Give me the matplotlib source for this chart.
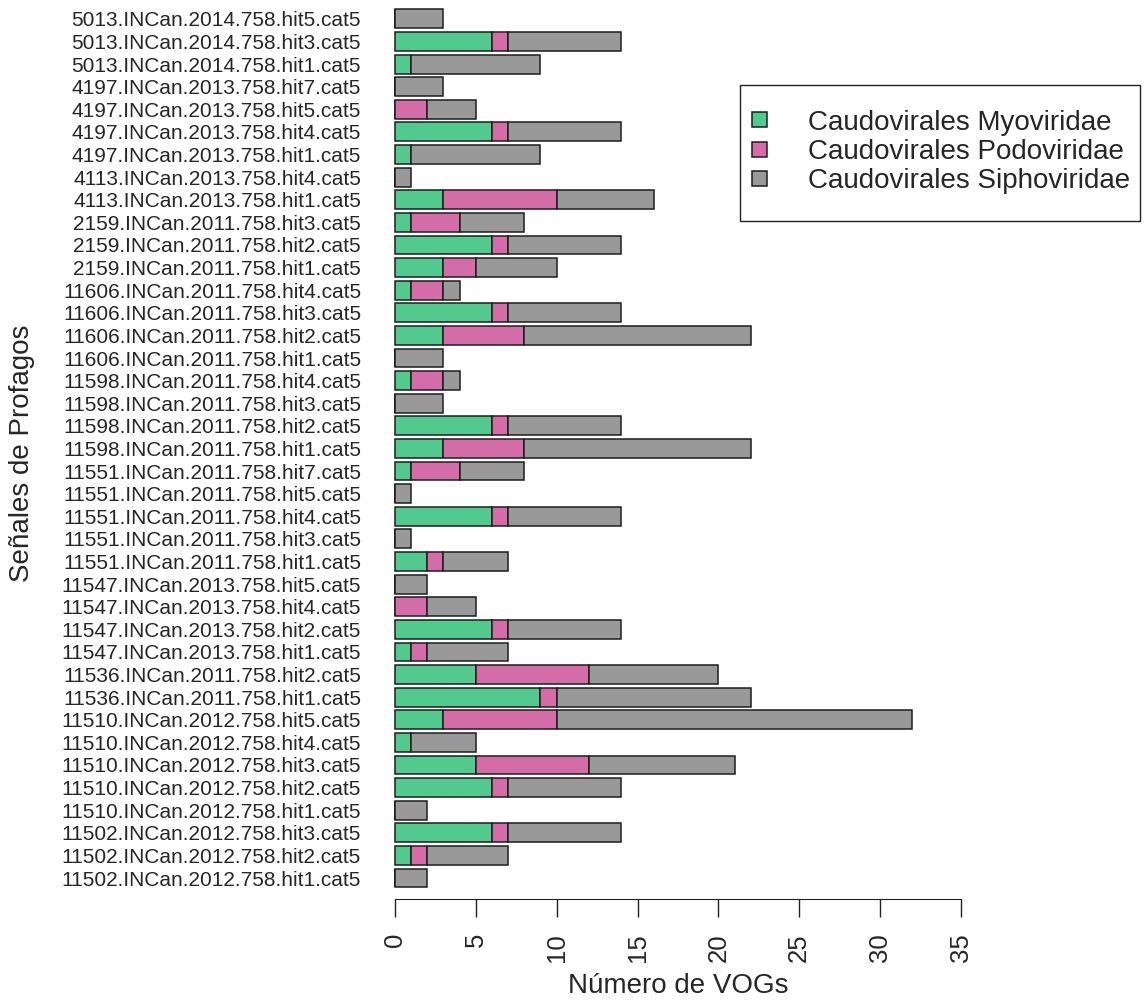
import matplotlib
matplotlib.use("Agg")
import matplotlib.pyplot as plt
from matplotlib.patches import Rectangle
import numpy as np

plt.rcParams['font.family'] = ['Liberation Sans', 'DejaVu Sans']

# categories listed top to bottom as in the chart
categories = [
    "5013.INCan.2014.758.hit5.cat5",
    "5013.INCan.2014.758.hit3.cat5",
    "5013.INCan.2014.758.hit1.cat5",
    "4197.INCan.2013.758.hit7.cat5",
    "4197.INCan.2013.758.hit5.cat5",
    "4197.INCan.2013.758.hit4.cat5",
    "4197.INCan.2013.758.hit1.cat5",
    "4113.INCan.2013.758.hit4.cat5",
    "4113.INCan.2013.758.hit1.cat5",
    "2159.INCan.2011.758.hit3.cat5",
    "2159.INCan.2011.758.hit2.cat5",
    "2159.INCan.2011.758.hit1.cat5",
    "11606.INCan.2011.758.hit4.cat5",
    "11606.INCan.2011.758.hit3.cat5",
    "11606.INCan.2011.758.hit2.cat5",
    "11606.INCan.2011.758.hit1.cat5",
    "11598.INCan.2011.758.hit4.cat5",
    "11598.INCan.2011.758.hit3.cat5",
    "11598.INCan.2011.758.hit2.cat5",
    "11598.INCan.2011.758.hit1.cat5",
    "11551.INCan.2011.758.hit7.cat5",
    "11551.INCan.2011.758.hit5.cat5",
    "11551.INCan.2011.758.hit4.cat5",
    "11551.INCan.2011.758.hit3.cat5",
    "11551.INCan.2011.758.hit1.cat5",
    "11547.INCan.2013.758.hit5.cat5",
    "11547.INCan.2013.758.hit4.cat5",
    "11547.INCan.2013.758.hit2.cat5",
    "11547.INCan.2013.758.hit1.cat5",
    "11536.INCan.2011.758.hit2.cat5",
    "11536.INCan.2011.758.hit1.cat5",
    "11510.INCan.2012.758.hit5.cat5",
    "11510.INCan.2012.758.hit4.cat5",
    "11510.INCan.2012.758.hit3.cat5",
    "11510.INCan.2012.758.hit2.cat5",
    "11510.INCan.2012.758.hit1.cat5",
    "11502.INCan.2012.758.hit3.cat5",
    "11502.INCan.2012.758.hit2.cat5",
    "11502.INCan.2012.758.hit1.cat5",
]

myoviridae = [0, 6, 1, 0, 0, 6, 1, 0, 3, 1, 6, 3, 1, 6, 3, 0, 1, 0, 6, 3,
              1, 0, 6, 0, 2, 0, 0, 6, 1, 5, 9, 3, 1, 5, 6, 0, 6, 1, 0]
podoviridae = [0, 1, 0, 0, 2, 1, 0, 0, 7, 3, 1, 2, 2, 1, 5, 0, 2, 0, 1, 5,
               3, 0, 1, 0, 1, 0, 2, 1, 1, 7, 1, 7, 0, 7, 1, 0, 1, 1, 0]
siphoviridae = [3, 7, 8, 3, 3, 7, 8, 1, 6, 4, 7, 5, 1, 7, 14, 3, 1, 3, 7, 14,
                4, 1, 7, 1, 4, 2, 3, 7, 5, 8, 12, 22, 4, 9, 7, 2, 7, 5, 2]

series_names = ["Caudovirales Myoviridae", "Caudovirales Podoviridae",
                "Caudovirales Siphoviridae"]
series_colors = ["#52C98D", "#D46CA7", "#999999"]
x_ticks = [0, 5, 10, 15, 20, 25, 30, 35]

fig = plt.figure(figsize=(11.44, 10), dpi=100)
ax = fig.add_axes([0.3311, 0.1084, 0.5230, 0.8863])

# spine placement first (it resets tick objects)
for s in ["top", "right", "left"]:
    ax.spines[s].set_visible(False)
ax.spines["bottom"].set_position(("outward", 5.3))
ax.spines["bottom"].set_color("#222222")

cats = categories[::-1]
series = [np.array(s[::-1], dtype=float) for s in (myoviridae, podoviridae, siphoviridae)]
ypos = np.arange(len(cats))
left = np.zeros(len(cats))
handles = []
for vals, name, col in zip(series, series_names, series_colors):
    h = ax.barh(ypos, vals, left=left, height=1 / 1.2, color=col,
                edgecolor="#1e1e1e", linewidth=1.1, label=name)
    handles.append(h)
    left = left + vals

ax.set_xlim(-1, 36)
ax.set_ylim(-0.6, len(cats) - 1 + 0.6)
ax.spines["bottom"].set_bounds(0, 35)
ax.set_yticks(ypos)
ax.set_yticklabels(cats, fontsize=15, color="#262626")
ax.tick_params(axis="y", length=0, pad=12.8)
ax.set_xticks(x_ticks)
ax.set_xticklabels([str(t) for t in x_ticks], rotation=90, fontsize=18.5,
                   color="#262626")
ax.tick_params(axis="x", length=13, width=1.0, pad=11.5, color="#222222")

ax.set_xlabel("Número de VOGs", fontsize=20, color="#262626")
ax.xaxis.label.set_va("center")
ax.xaxis.set_label_coords(678 / 1144, 1 - 986 / 1000, transform=fig.transFigure)
ax.set_ylabel("Señales de Profagos", fontsize=20, color="#262626")
ax.yaxis.label.set_va("center")
ax.yaxis.set_label_coords(22 / 1144, 1 - 453 / 1000, transform=fig.transFigure)

leg = fig.legend(handles, series_names, loc="center left",
                 bbox_to_anchor=(752 / 1144, 1 - 152 / 1000),
                 bbox_transform=fig.transFigure, frameon=False, fontsize=20,
                 borderpad=0, borderaxespad=0, handlelength=0.55,
                 handleheight=0.45, handletextpad=1.45, labelspacing=0.12)
for t in leg.get_texts():
    t.set_color("#262626")
fig.add_artist(Rectangle((740 / 1144, 1 - 221 / 1000), 400 / 1144, 136 / 1000,
                         transform=fig.transFigure, fill=False,
                         edgecolor="#222222", linewidth=1.0))

fig.savefig("out.png", dpi=100)
